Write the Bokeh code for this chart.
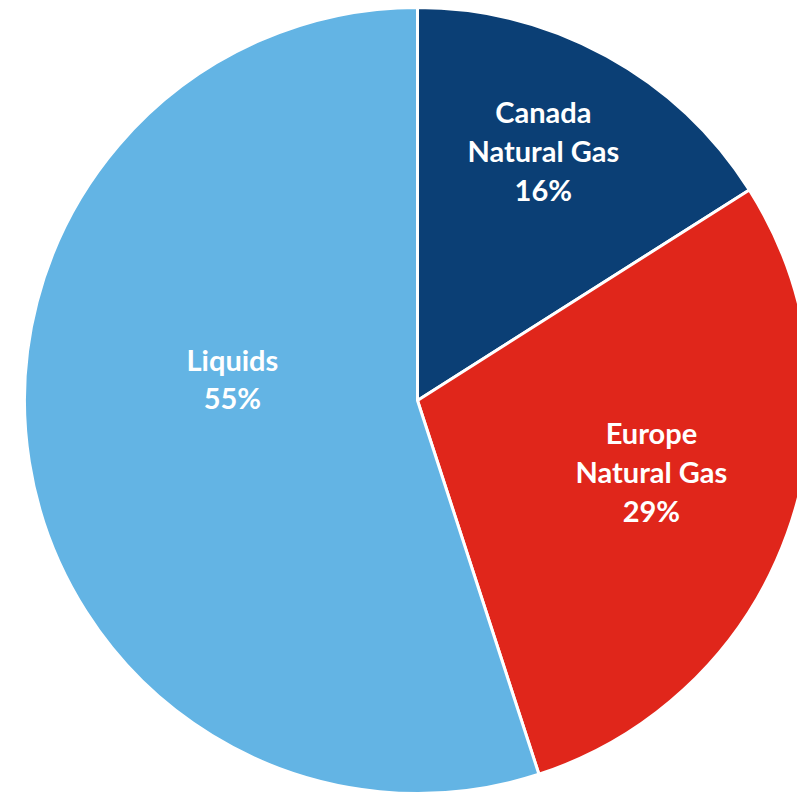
import math
from bokeh.plotting import figure
from bokeh.models import ColumnDataSource, Range1d
from bokeh.core.properties import value
from bokeh.embed import file_html
from bokeh.resources import INLINE

# Data
categories = ["Canada Natural Gas", "Europe Natural Gas", "Liquids"]
label_lines = ["Canada\nNatural Gas", "Europe\nNatural Gas", "Liquids"]
shares = [16, 29, 55]
colors = ["#0B3F75", "#E0261B", "#63B4E4"]

# Layout (label placement: radius in px and angle nudge in degrees, counter-clockwise)
label_radius = [280, 244.5, 186.4]
label_nudge_deg = [2.1, 2.9, -15.8]

W, H = 797, 793
CX, CY = 417, 400  # pie centre, pixels from left / top of figure
R = 393

total = sum(shares)
starts, ends, lx, ly, texts = [], [], [], [], []
cum = 0.0
for i, v in enumerate(shares):
    a0 = math.pi / 2 - 2 * math.pi * cum / total
    cum += v
    a1 = math.pi / 2 - 2 * math.pi * cum / total
    starts.append(a0)
    ends.append(a1)
    mid = (a0 + a1) / 2 + math.radians(label_nudge_deg[i])
    lx.append(label_radius[i] * math.cos(mid))
    ly.append(label_radius[i] * math.sin(mid))
    texts.append(f"{label_lines[i]}\n{v}%")

src = ColumnDataSource(dict(cat=categories, start=starts, end=ends, color=colors))
lsrc = ColumnDataSource(dict(x=lx, y=ly, text=texts))

p = figure(width=W, height=H, output_backend="svg", toolbar_location=None,
           x_range=Range1d(-CX, W - CX), y_range=Range1d(-(H - CY), CY),
           min_border=0, outline_line_color=None, background_fill_color="white")
p.axis.visible = False
p.grid.visible = False

p.wedge(x=0, y=0, radius=R, start_angle="start", end_angle="end", direction="clock",
        fill_color="color", line_color="white", line_width=3, source=src)

p.text(x="x", y="y", text="text", source=lsrc, text_color="white",
       text_font=value("Lato"), text_font_style="bold", text_font_size="29px",
       text_align="center", text_baseline="middle", text_line_height=1.11)

open("out.html", "w").write(file_html(p, INLINE))
